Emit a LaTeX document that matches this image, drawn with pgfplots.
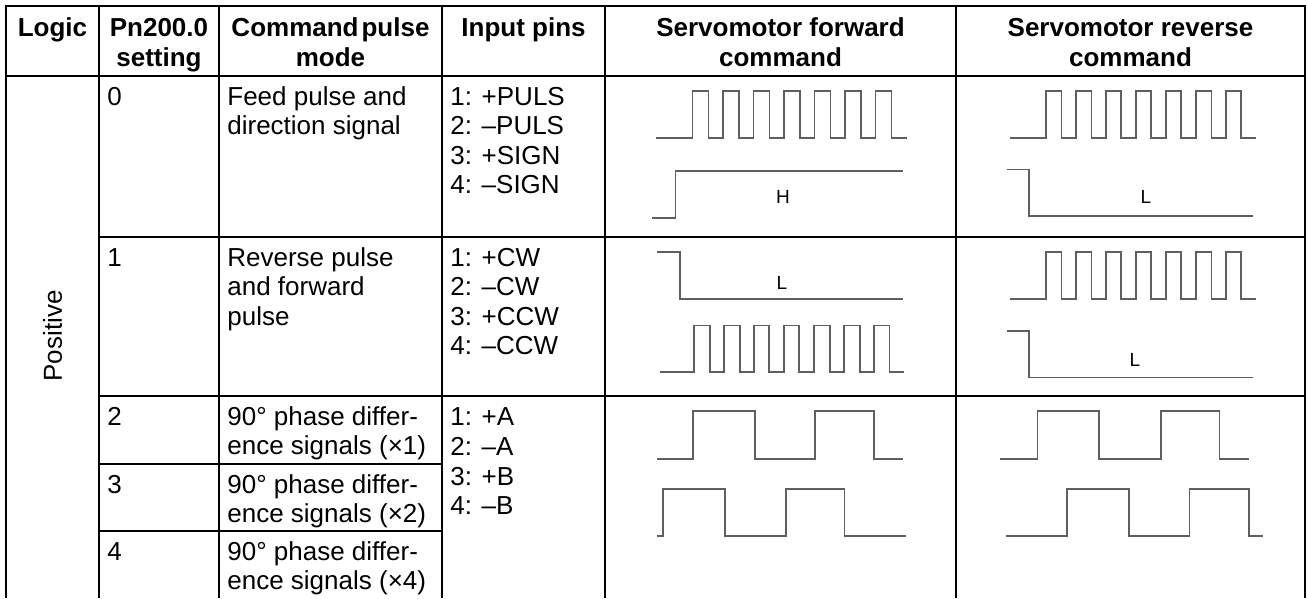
\documentclass[border=0pt]{standalone}
\usepackage{pgfplots}
\pgfplotsset{compat=1.18}
\usepackage{fontspec}
\setmainfont{Liberation Sans}
\definecolor{wave}{RGB}{95,95,95}
\newcommand{\tl}[3]{\node[anchor=base west,inner sep=0pt] at (axis cs:#1,#2) {#3};}
\newcommand{\tc}[3]{\node[anchor=base,inner sep=0pt,font=\fontsize{13}{14.75}\selectfont\bfseries] at (axis cs:#1,#2) {#3};}
\newcommand{\lab}[3]{\node[anchor=center,inner sep=0pt,font=\fontsize{9.5}{11}\selectfont] at (axis cs:#1,#2) {#3};}
\begin{document}
\begin{tikzpicture}[font=\fontsize{13}{14.75}\selectfont]
\begin{axis}[width=654pt,height=298.5pt,scale only axis,
  xmin=0,xmax=1308,ymin=0,ymax=597,y dir=reverse,hide axis,clip=false]
\addplot[draw=none,forget plot] coordinates {(0,0) (1308,597)};
% ---------- table grid ----------
\pgfplotsset{grid/.style={black,line width=1.15pt,line cap=rect,forget plot}}
\addplot[grid,line join=miter] coordinates {(6,597) (6,6) (1305,6) (1305,597)};
\addplot[grid] coordinates {(99,6) (99,597)};
\addplot[grid] coordinates {(219,6) (219,597)};
\addplot[grid] coordinates {(442,6) (442,597)};
\addplot[grid] coordinates {(605,6) (605,597)};
\addplot[grid] coordinates {(956,6) (956,597)};
\addplot[grid] coordinates {(6,76) (1305,76)};
\addplot[grid] coordinates {(99,237) (1305,237)};
\addplot[grid] coordinates {(99,396) (1305,396)};
\addplot[grid] coordinates {(99,464) (442,464)};
\addplot[grid] coordinates {(99,531) (442,531)};
% ---------- waveforms ----------
\pgfplotsset{wv/.style={wave,line width=0.65pt,forget plot}}
% forward, setting 0
\addplot[wv] coordinates {(656,138) (692.5,138) (692.5,91) (708.5,91) (708.5,138) (723,138) (723,91) (739,91) (739,138) (753.5,138) (753.5,91) (769.5,91) (769.5,138) (784,138) (784,91) (800,91) (800,138) (814.5,138) (814.5,91) (830.5,91) (830.5,138) (845,138) (845,91) (861,91) (861,138) (875.5,138) (875.5,91) (891.5,91) (891.5,138) (907,138)};
\addplot[wv] coordinates {(652,218) (675.5,218) (675.5,171) (902.5,171)};
% reverse, setting 0
\addplot[wv] coordinates {(1010,138) (1046,138) (1046,91) (1061.5,91) (1061.5,138) (1076,138) (1076,91) (1091.5,91) (1091.5,138) (1106,138) (1106,91) (1121,91) (1121,138) (1136,138) (1136,91) (1151,91) (1151,138) (1166,138) (1166,91) (1181,91) (1181,138) (1196,138) (1196,91) (1211.5,91) (1211.5,138) (1226,138) (1226,91) (1241,91) (1241,138) (1256,138)};
\addplot[wv] coordinates {(1006.5,169.5) (1029,169.5) (1029,216) (1252.5,216)};
% forward, setting 1
\addplot[wv] coordinates {(657,252) (680,252) (680,299) (902.5,299)};
\addplot[wv] coordinates {(659.5,372) (694,372) (694,325.5) (710,325.5) (710,372) (724,372) (724,325.5) (740,325.5) (740,372) (754,372) (754,325.5) (769,325.5) (769,372) (784,372) (784,325.5) (799,325.5) (799,372) (814,372) (814,325.5) (830,325.5) (830,372) (844,372) (844,325.5) (860,325.5) (860,372) (874,372) (874,325.5) (889.5,325.5) (889.5,372) (904,372)};
% reverse, setting 1
\addplot[wv] coordinates {(1010,299) (1046,299) (1046,252) (1061.5,252) (1061.5,299) (1076,299) (1076,252) (1091.5,252) (1091.5,299) (1106,299) (1106,252) (1121,252) (1121,299) (1136,299) (1136,252) (1151,252) (1151,299) (1166,299) (1166,252) (1181,252) (1181,299) (1196,299) (1196,252) (1211.5,252) (1211.5,299) (1226,299) (1226,252) (1241,252) (1241,299) (1256,299)};
\addplot[wv] coordinates {(1006.5,331) (1029,331) (1029,377.5) (1252.5,377.5)};
% forward, 90 deg phase difference
\addplot[wv] coordinates {(657,459) (693,459) (693,411) (755,411) (755,459) (815,459) (815,411) (874,411) (874,459) (903,459)};
\addplot[wv] coordinates {(657,536) (663,536) (663,489) (725,489) (725,536) (786,536) (786,489) (844.5,489) (844.5,536) (906,536)};
% reverse, 90 deg phase difference
\addplot[wv] coordinates {(1000,459) (1037.5,459) (1037.5,411) (1099,411) (1099,459) (1161,459) (1161,411) (1219.5,411) (1219.5,459) (1249,459)};
\addplot[wv] coordinates {(1005.5,536) (1067,536) (1067,489) (1129,489) (1129,536) (1189.5,536) (1189.5,489) (1249,489) (1249,536) (1263,536)};
% level labels
\lab{783}{197}{H}
\lab{1146}{197}{L}
\lab{782}{283}{L}
\lab{1135}{360}{L}
% ---------- header ----------
\tc{52.5}{36}{Logic}
\tc{159}{36}{Pn200.0}
\tc{159}{66}{setting}
\tc{330.5}{36}{Command\kern1.5pt pulse}
\tc{330.5}{66}{mode}
\tc{523.5}{36}{Input pins}
\tc{780.5}{36}{Servomotor forward}
\tc{780.5}{66}{command}
\tc{1130.5}{36}{Servomotor reverse}
\tc{1130.5}{66}{command}
% ---------- body ----------
\node[rotate=90,anchor=center,inner sep=0pt] at (axis cs:52.5,336) {Positive};
\tl{107}{105}{0}
\tl{227}{105}{Feed pulse and}
\tl{227}{134.5}{direction signal}
\tl{450}{105}{1: +PULS}
\tl{450}{134.5}{2: –PULS}
\tl{450}{164}{3: +SIGN}
\tl{450}{193.5}{4: –SIGN}
\tl{107}{266}{1}
\tl{227}{266}{Reverse pulse}
\tl{227}{295.5}{and forward}
\tl{227}{325}{pulse}
\tl{450}{266}{1: +CW}
\tl{450}{295.5}{2: –CW}
\tl{450}{325}{3: +CCW}
\tl{450}{354.5}{4: –CCW}
\tl{107}{425}{2}
\tl{227}{425}{90° phase differ-}
\tl{227}{454.5}{ence signals (×1)}
\tl{450}{425}{1: +A}
\tl{450}{455}{2: –A}
\tl{450}{485}{3: +B}
\tl{450}{514.5}{4: –B}
\tl{107}{493}{3}
\tl{227}{493}{90° phase differ-}
\tl{227}{522.5}{ence signals (×2)}
\tl{107}{560}{4}
\tl{227}{560}{90° phase differ-}
\tl{227}{589.5}{ence signals (×4)}
\end{axis}
\end{tikzpicture}
\end{document}
